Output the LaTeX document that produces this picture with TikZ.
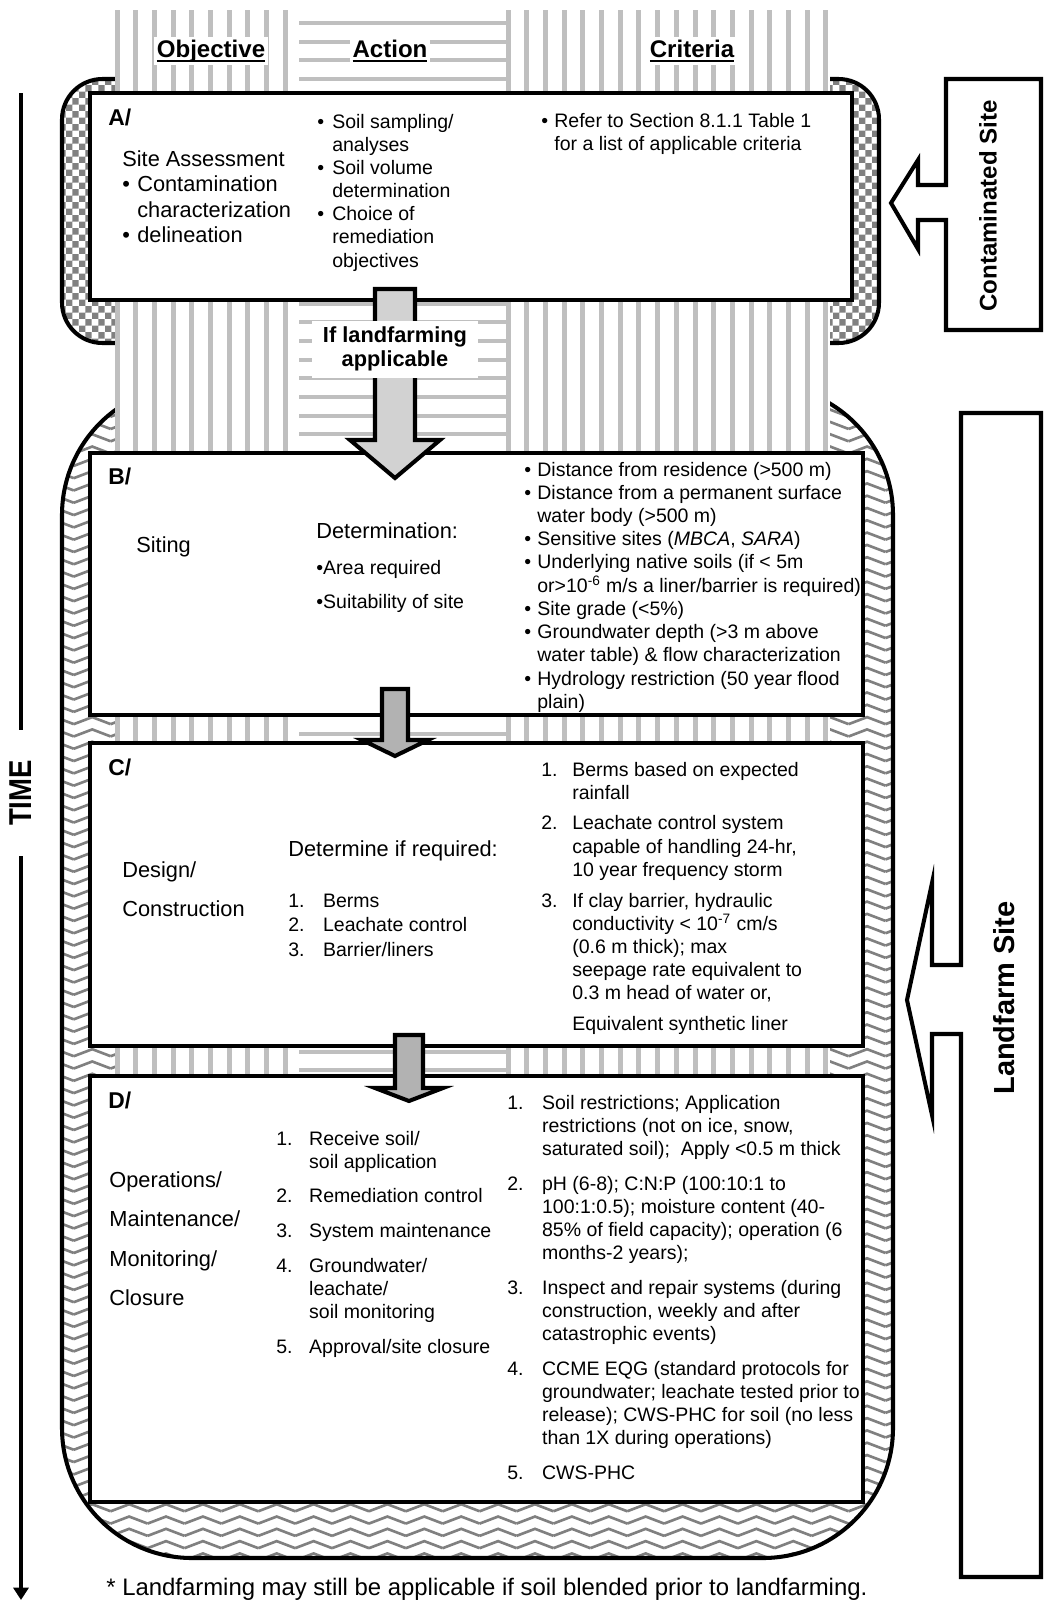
\documentclass[tikz,border=0pt]{standalone}
\usepackage{fontspec}
\setmainfont{Liberation Sans}
\usepackage{graphicx}
\usetikzlibrary{%
    arrows.meta,
    fit,
    patterns,
    positioning
}

% fill patterns of the two site regions
\pgfdeclarepatternformonly{checkers}{\pgfqpoint{0pt}{0pt}}{\pgfqpoint{7.6pt}{7.6pt}}{\pgfqpoint{7.6pt}{7.6pt}}{%
    \pgfpathrectangle{\pgfqpoint{0pt}{0pt}}{\pgfqpoint{3.8pt}{3.8pt}}%
    \pgfpathrectangle{\pgfqpoint{3.8pt}{3.8pt}}{\pgfqpoint{3.8pt}{3.8pt}}%
    \pgfusepath{fill}}
\pgfdeclarepatternformonly{zigzags}{\pgfqpoint{-1pt}{-1pt}}{\pgfqpoint{22pt}{8pt}}{\pgfqpoint{21pt}{7pt}}{%
    \pgfsetlinewidth{1.5pt}%
    \pgfpathmoveto{\pgfqpoint{0pt}{1.5pt}}%
    \pgfpathlineto{\pgfqpoint{10.5pt}{5.5pt}}%
    \pgfpathlineto{\pgfqpoint{21pt}{1.5pt}}%
    \pgfusepath{stroke}}

\tikzset{
    region/.style     = {draw=black, line width=2.3pt, preaction={fill=white}, pattern color=gray},
    stripe/.style     = {fill=gray!50},
    stagebox/.style   = {draw=black, line width=2.4pt, fill=white, inner sep=0pt},
    colhead/.style    = {font=\bfseries\fontsize{13.7}{16}\selectfont, fill=white, inner sep=1.5pt, anchor=base},
    stageletter/.style= {font=\bfseries\fontsize{13}{15}\selectfont, inner sep=0pt, anchor=base west},
    bigtext/.style    = {font=\fontsize{12.4}{14.6}\selectfont, inner sep=0pt, anchor=base west},
    smalltext/.style  = {font=\fontsize{11.1}{13.2}\selectfont, inner sep=0pt, anchor=base west},
    flowlabel/.style  = {font=\bfseries\fontsize{12.4}{14.2}\selectfont, fill=white, inner xsep=6pt, inner ysep=2pt, anchor=base},
    blockarrow/.style = {draw=black, line width=2.3pt, line join=miter},
    sitebox/.style    = {draw=black, line width=2.3pt, fill=white, line join=miter},
    sitelabel/.style  = {font=\bfseries\fontsize{13.7}{16}\selectfont, rotate=90, inner sep=0pt},
    timelabel/.style  = {font=\bfseries\fontsize{18}{20}\selectfont, rotate=90, inner xsep=17pt, inner ysep=0pt},
    timeline/.style   = {line width=2.6pt},
    headarrow/.style  = {-{Triangle[length=7pt, width=8.5pt]}}
}

% down block arrow: fill, centre x, shaft top, head base, tip, half shaft, half head
\newcommand{\blockdown}[7]{%
    \draw[blockarrow, fill=#1] ({#2-#6},#3) -- ({#2+#6},#3) -- ({#2+#6},#4) -- ({#2+#7},#4)
        -- (#2,#5) -- ({#2-#7},#4) -- ({#2-#6},#4) -- cycle;}
\newcommand{\bul}[1][8.5pt]{\makebox[#1][l]{\textbullet}}
\newcommand{\itemno}[2]{\makebox[#1][l]{#2}}
\newcommand{\colname}[1]{\sbox0{#1}\rlap{\rule[-2.8pt]{\wd0}{1.1pt}}\usebox0}

\begin{document}
\begin{tikzpicture}[x=0.02cm, y=-0.02cm]
    \useasboundingbox (0,0) rectangle (1045,1600);

    % site regions
    \draw[region, pattern=checkers, rounded corners=23pt] (62,79) rectangle (879,343);
    \draw[region, pattern=zigzags, rounded corners=74pt] (62,385) rectangle (893,1558);

    % hatched columns
    \fill[white] (115,10) rectangle (830,1490);
    \foreach \i in {0,...,9}
        \fill[stripe] ({117+18.7*\i-2.5},10) rectangle ({117+18.7*\i+2.5},1490);
    \foreach \i in {0,...,77}
        \fill[stripe] (299,{23+18.7*\i-2}) rectangle (506,{23+18.7*\i+2});
    \foreach \i in {0,...,17}
        \fill[stripe] ({508+18.7*\i-2.5},10) rectangle ({508+18.7*\i+2.5},1490);

    % column heads
    \node[colhead] (objhead)  at (211,57) {\colname{Objective}};
    \node[colhead] (acthead)  at (390,57) {\colname{Action}};
    \node[colhead] (crithead) at (692,57) {\colname{Criteria}};

    % site boxes
    \draw[sitebox] (1041,79) -- (946,79) -- (946,185) -- (918,185) -- (918,160) -- (891,203)
        -- (918,249) -- (918,220) -- (946,220) -- (946,330) -- (1041,330) -- cycle;
    \node[sitelabel] (contam) at (988,206) {Contaminated Site};
    \draw[sitebox] (1041,413) -- (961,413) -- (961,965) -- (932,965) -- (932,883) -- (907,1000)
        -- (932,1115) -- (932,1034) -- (961,1034) -- (961,1577) -- (1041,1577) -- cycle;
    \node[sitelabel, font=\bfseries\fontsize{16.5}{19}\selectfont] (landf) at (1004,998) {Landfarm Site};

    % stages
    \node[stagebox, fit={(90,93) (852,300)}]    (A) {};
    \node[stagebox, fit={(90,453) (863,715)}]   (B) {};
    \node[stagebox, fit={(90,743) (863,1046)}]  (C) {};
    \node[stagebox, fit={(90,1076) (863,1502)}] (D) {};

    % arrows between stages
    \blockdown{gray!35}{395}{289}{440}{478}{20}{45}
    \blockdown{gray!60}{395}{689}{740}{756}{13}{33}
    \blockdown{gray!60}{409}{1035}{1088}{1101}{14}{34}
    \node[flowlabel] (iflf) at (395,342) {\begin{tabular}[t]{@{}c@{}}If landfarming\\ applicable\end{tabular}};

    % stage A
    \node[stageletter] (Alet) at (108,125) {A/};
    \node[bigtext] (Aobj) at (122,166) {\begin{tabular}[t]{@{}l@{}l@{}}
        \multicolumn{2}{@{}l@{}}{Site Assessment}\\
        \bul & Contamination\\
             & characterization\\
        \bul & delineation
        \end{tabular}};
    \node[smalltext] (Aact) at (317,128) {\begin{tabular}[t]{@{}l@{}l@{}}
        \bul & Soil sampling/\\
             & analyses\\
        \bul & Soil volume\\
             & determination\\
        \bul & Choice of\\
             & remediation\\
             & objectives
        \end{tabular}};
    \node[smalltext] (Acrit) at (541,127) {\begin{tabular}[t]{@{}l@{}l@{}}
        \bul[7.4pt] & Refer to Section 8.1.1 Table 1\\
                    & for a list of applicable criteria
        \end{tabular}};

    % stage B
    \node[stageletter] (Blet) at (108,484) {B/};
    \node[bigtext] (Bobj) at (136,552) {Siting};
    \node[bigtext] (Bact) at (316,538) {Determination:};
    \node[smalltext] (Bitems) at (316,574) {\begin{tabular}[t]{@{}l@{}}
        \textbullet Area required\\[6.7pt]
        \textbullet Suitability of site
        \end{tabular}};
    \node[smalltext] (Bcrit) at (524,476) {\begin{tabular}[t]{@{}l@{}l@{}}
        \bul[7.4pt] & Distance from residence (>500 m)\\
        \bul[7.4pt] & Distance from a permanent surface\\
                    & water body (>500 m)\\
        \bul[7.4pt] & Sensitive sites (\textit{MBCA}, \textit{SARA})\\
        \bul[7.4pt] & Underlying native soils (if < 5m\\
                    & or>10\textsuperscript{-6} m/s a liner/barrier is required)\\
        \bul[7.4pt] & Site grade (<5\%)\\
        \bul[7.4pt] & Groundwater depth (>3 m above\\
                    & water table) \& flow characterization\\
        \bul[7.4pt] & Hydrology restriction (50 year flood\\
                    & plain)
        \end{tabular}};

    % stage C
    \node[stageletter] (Clet) at (108,775) {C/};
    \node[bigtext] (Cobj) at (122,877) {\begin{tabular}[t]{@{}l@{}}
        Design/\\[8.1pt]
        Construction
        \end{tabular}};
    \node[bigtext] (Cact) at (288,856) {Determine if required:};
    \node[smalltext] (Citems) at (288,907) {\begin{tabular}[t]{@{}l@{}l@{}}
        \itemno{19.8pt}{1.} & Berms\\[0.8pt]
        \itemno{19.8pt}{2.} & Leachate control\\[0.8pt]
        \itemno{19.8pt}{3.} & Barrier/liners
        \end{tabular}};
    \node[smalltext] (Ccrit) at (541,776) {\begin{tabular}[t]{@{}l@{}l@{}}
        \itemno{17.6pt}{1.} & Berms based on expected\\
                            & rainfall\\[4.3pt]
        \itemno{17.6pt}{2.} & Leachate control system\\
                            & capable of handling 24-hr,\\
                            & 10 year frequency storm\\[4.3pt]
        \itemno{17.6pt}{3.} & If clay barrier, hydraulic\\
                            & conductivity < 10\textsuperscript{-7} cm/s\\
                            & (0.6 m thick); max\\
                            & seepage rate equivalent to\\
                            & 0.3 m head of water or,\\[4.3pt]
                            & Equivalent synthetic liner
        \end{tabular}};

    % stage D
    \node[stageletter] (Dlet) at (108,1108) {D/};
    \node[bigtext] (Dobj) at (109,1187) {\begin{tabular}[t]{@{}l@{}}
        Operations/\\[7.9pt]
        Maintenance/\\[7.9pt]
        Monitoring/\\[7.9pt]
        Closure
        \end{tabular}};
    \node[smalltext] (Ditems) at (276,1145) {\begin{tabular}[t]{@{}l@{}l@{}}
        \itemno{18.7pt}{1.} & Receive soil/\\
                            & soil application\\[6.6pt]
        \itemno{18.7pt}{2.} & Remediation control\\[6.6pt]
        \itemno{18.7pt}{3.} & System maintenance\\[6.6pt]
        \itemno{18.7pt}{4.} & Groundwater/\\
                            & leachate/\\
                            & soil monitoring\\[6.6pt]
        \itemno{18.7pt}{5.} & Approval/site closure
        \end{tabular}};
    \node[smalltext] (Dcrit) at (507,1109) {\begin{tabular}[t]{@{}l@{}l@{}}
        \itemno{19.8pt}{1.} & Soil restrictions; Application\\
                            & restrictions (not on ice, snow,\\
                            & saturated soil);\ \ Apply <0.5 m thick\\[6.5pt]
        \itemno{19.8pt}{2.} & pH (6-8); C:N:P (100:10:1 to\\
                            & 100:1:0.5); moisture content (40-\\
                            & 85\% of field capacity); operation (6\\
                            & months-2 years);\\[6.5pt]
        \itemno{19.8pt}{3.} & Inspect and repair systems (during\\
                            & construction, weekly and after\\
                            & catastrophic events)\\[6.5pt]
        \itemno{19.8pt}{4.} & CCME EQG (standard protocols for\\
                            & groundwater; leachate tested prior to\\
                            & release); CWS-PHC for soil (no less\\
                            & than 1X during operations)\\[6.5pt]
        \itemno{19.8pt}{5.} & CWS-PHC
        \end{tabular}};

    % time axis
    \coordinate (timetop) at (21,93);
    \coordinate (timeend) at (21,1600);
    \node[timelabel] (time) at (21,793) {\scalebox{0.87}[1]{TIME}};
    \draw[timeline] (timetop) -- (time);
    \draw[timeline, headarrow] (time) -- (timeend);

    % footnote
    \node[bigtext, font=\fontsize{13.6}{16}\selectfont] (note) at (106,1595) {* Landfarming may still be applicable if soil blended prior to landfarming.};
\end{tikzpicture}
\end{document}
